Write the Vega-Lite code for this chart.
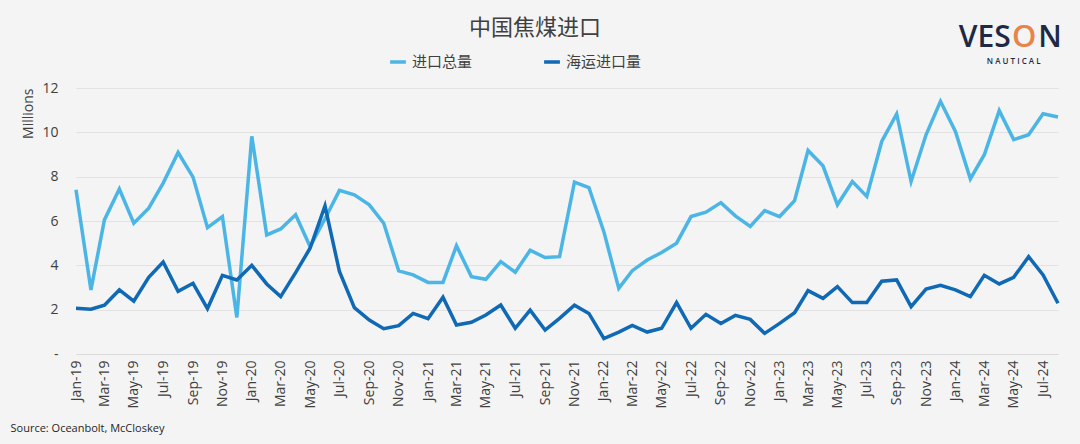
{
  "$schema": "https://vega.github.io/schema/vega-lite/v6.json",
  "autosize": {"type": "none"},
  "padding": {"left": 76, "top": 88, "right": 22, "bottom": 90},
  "width": 982,
  "height": 266,
  "background": "#f4f4f4",
  "config": {"view": {"stroke": null}, "font": "Open Sans"},
  "title": {
    "text": "中国焦煤进口",
    "font": "Noto Sans CJK SC",
    "fontSize": 22,
    "fontWeight": "normal",
    "color": "#404040",
    "anchor": "middle",
    "frame": "group",
    "dx": -32,
    "dy": 32,
    "offset": 14
  },
  "layer": [
    {
      "data": {
        "values": [
          {"month": "2019/01/01", "进口总量": 7.41, "海运进口量": 2.06},
          {"month": "2019/02/01", "进口总量": 2.89, "海运进口量": 2.02},
          {"month": "2019/03/01", "进口总量": 6.05, "海运进口量": 2.20},
          {"month": "2019/04/01", "进口总量": 7.44, "海运进口量": 2.89},
          {"month": "2019/05/01", "进口总量": 5.90, "海运进口量": 2.38},
          {"month": "2019/06/01", "进口总量": 6.58, "海运进口量": 3.46},
          {"month": "2019/07/01", "进口总量": 7.71, "海运进口量": 4.15},
          {"month": "2019/08/01", "进口总量": 9.09, "海运进口量": 2.83},
          {"month": "2019/09/01", "进口总量": 7.98, "海运进口量": 3.19},
          {"month": "2019/10/01", "进口总量": 5.70, "海运进口量": 2.05},
          {"month": "2019/11/01", "进口总量": 6.20, "海运进口量": 3.55},
          {"month": "2019/12/01", "进口总量": 1.65, "海运进口量": 3.34},
          {"month": "2020/01/01", "进口总量": 9.82, "海运进口量": 4.00},
          {"month": "2020/02/01", "进口总量": 5.37, "海运进口量": 3.16},
          {"month": "2020/03/01", "进口总量": 5.64, "海运进口量": 2.59},
          {"month": "2020/04/01", "进口总量": 6.28, "海运进口量": 3.67},
          {"month": "2020/05/01", "进口总量": 4.85, "海运进口量": 4.77},
          {"month": "2020/06/01", "进口总量": 6.10, "海运进口量": 6.68},
          {"month": "2020/07/01", "进口总量": 7.38, "海运进口量": 3.72},
          {"month": "2020/08/01", "进口总量": 7.18, "海运进口量": 2.09},
          {"month": "2020/09/01", "进口总量": 6.73, "海运进口量": 1.53},
          {"month": "2020/10/01", "进口总量": 5.90, "海运进口量": 1.14},
          {"month": "2020/11/01", "进口总量": 3.75, "海运进口量": 1.28},
          {"month": "2020/12/01", "进口总量": 3.57, "海运进口量": 1.83},
          {"month": "2021/01/01", "进口总量": 3.23, "海运进口量": 1.59},
          {"month": "2021/02/01", "进口总量": 3.23, "海运进口量": 2.56},
          {"month": "2021/03/01", "进口总量": 4.88, "海运进口量": 1.31},
          {"month": "2021/04/01", "进口总量": 3.49, "海运进口量": 1.43},
          {"month": "2021/05/01", "进口总量": 3.37, "海运进口量": 1.76},
          {"month": "2021/06/01", "进口总量": 4.17, "海运进口量": 2.21},
          {"month": "2021/07/01", "进口总量": 3.69, "海运进口量": 1.16},
          {"month": "2021/08/01", "进口总量": 4.68, "海运进口量": 1.98},
          {"month": "2021/09/01", "进口总量": 4.35, "海运进口量": 1.08},
          {"month": "2021/10/01", "进口总量": 4.39, "海运进口量": 1.61},
          {"month": "2021/11/01", "进口总量": 7.75, "海运进口量": 2.20},
          {"month": "2021/12/01", "进口总量": 7.51, "海运进口量": 1.83},
          {"month": "2022/01/01", "进口总量": 5.52, "海运进口量": 0.70},
          {"month": "2022/02/01", "进口总量": 2.96, "海运进口量": 0.99},
          {"month": "2022/03/01", "进口总量": 3.76, "海运进口量": 1.29},
          {"month": "2022/04/01", "进口总量": 4.24, "海运进口量": 0.99},
          {"month": "2022/05/01", "进口总量": 4.58, "海运进口量": 1.16},
          {"month": "2022/06/01", "进口总量": 5.00, "海运进口量": 2.32},
          {"month": "2022/07/01", "进口总量": 6.20, "海运进口量": 1.16},
          {"month": "2022/08/01", "进口总量": 6.40, "海运进口量": 1.79},
          {"month": "2022/09/01", "进口总量": 6.83, "海运进口量": 1.38},
          {"month": "2022/10/01", "进口总量": 6.23, "海运进口量": 1.74},
          {"month": "2022/11/01", "进口总量": 5.75, "海运进口量": 1.56},
          {"month": "2022/12/01", "进口总量": 6.47, "海运进口量": 0.93},
          {"month": "2023/01/01", "进口总量": 6.20, "海运进口量": 1.38},
          {"month": "2023/02/01", "进口总量": 6.92, "海运进口量": 1.86},
          {"month": "2023/03/01", "进口总量": 9.18, "海运进口量": 2.86},
          {"month": "2023/04/01", "进口总量": 8.49, "海运进口量": 2.51},
          {"month": "2023/05/01", "进口总量": 6.73, "海运进口量": 3.04},
          {"month": "2023/06/01", "进口总量": 7.78, "海运进口量": 2.32},
          {"month": "2023/07/01", "进口总量": 7.11, "海运进口量": 2.32},
          {"month": "2023/08/01", "进口总量": 9.59, "海运进口量": 3.28},
          {"month": "2023/09/01", "进口总量": 10.83, "海运进口量": 3.34},
          {"month": "2023/10/01", "进口总量": 7.78, "海运进口量": 2.14},
          {"month": "2023/11/01", "进口总量": 9.89, "海运进口量": 2.93},
          {"month": "2023/12/01", "进口总量": 11.40, "海运进口量": 3.10},
          {"month": "2024/01/01", "进口总量": 10.04, "海运进口量": 2.89},
          {"month": "2024/02/01", "进口总量": 7.90, "海运进口量": 2.59},
          {"month": "2024/03/01", "进口总量": 8.99, "海运进口量": 3.55},
          {"month": "2024/04/01", "进口总量": 10.98, "海运进口量": 3.16},
          {"month": "2024/05/01", "进口总量": 9.67, "海运进口量": 3.46},
          {"month": "2024/06/01", "进口总量": 9.89, "海运进口量": 4.39},
          {"month": "2024/07/01", "进口总量": 10.84, "海运进口量": 3.57},
          {"month": "2024/08/01", "进口总量": 10.69, "海运进口量": 2.29}
        ]
      },
      "transform": [
        {"fold": ["进口总量", "海运进口量"], "as": ["series", "value"]}
      ],
      "mark": {"type": "line", "strokeWidth": 3.5, "strokeJoin": "miter"},
      "encoding": {
        "x": {
          "field": "month",
          "type": "temporal",
          "scale": {"nice": false, "padding": 0},
          "axis": {
            "format": "%b-%y",
            "tickCount": {"interval": "month", "step": 2},
            "labelAngle": -90,
            "labelAlign": "right",
            "labelBaseline": "middle",
            "labelFontSize": 14,
            "labelColor": "#404040",
            "labelPadding": 6,
            "labelOverlap": false,
            "labelFlush": false,
            "ticks": false,
            "grid": false,
            "domainColor": "#d9d9d9",
            "title": "Source: Oceanbolt, McCloskey",
            "titleAnchor": "start",
            "titleAlign": "left",
            "titleBaseline": "middle",
            "titleX": -66,
            "titleY": 74,
            "titleFontSize": 11,
            "titleFontWeight": "normal",
            "titleColor": "#262626"
          }
        },
        "y": {
          "field": "value",
          "type": "quantitative",
          "scale": {"domain": [0, 12], "nice": false},
          "axis": {
            "values": [0, 2, 4, 6, 8, 10, 12],
            "labelExpr": "datum.value == 0 ? '-' : datum.label",
            "domain": false,
            "ticks": false,
            "gridColor": "#e2e2e2",
            "labelFontSize": 14,
            "labelColor": "#404040",
            "labelPadding": 18,
            "title": "Millions",
            "titleAnchor": "end",
            "titleFontSize": 14,
            "titleFontWeight": "normal",
            "titleColor": "#404040",
            "titlePadding": 6
          }
        },
        "color": {
          "field": "series",
          "type": "nominal",
          "scale": {"domain": ["进口总量", "海运进口量"], "range": ["#4bb5e6", "#0f69b4"]},
          "legend": {
            "orient": "none",
            "legendX": 312,
            "legendY": -36,
            "direction": "horizontal",
            "title": null,
            "symbolType": "stroke",
            "symbolStrokeWidth": 3.5,
            "symbolSize": 250,
            "labelFont": "Noto Sans CJK SC",
            "labelFontSize": 15,
            "labelColor": "#404040",
            "columnPadding": 64
          }
        }
      }
    },
    {
      "data": {"values": [{"t": "VES"}]},
      "mark": {"type": "text", "align": "right", "baseline": "alphabetic", "fontSize": 30, "fontWeight": 600, "font": "Open Sans", "color": "#1e2a45"},
      "encoding": {
        "x": {"datum": {"year": 2024, "month": 4, "date": 25}, "type": "temporal"},
        "y": {"datum": 13.85, "type": "quantitative"},
        "text": {"field": "t"}
      }
    },
    {
      "data": {"values": [{"t": "O"}]},
      "mark": {"type": "text", "align": "center", "baseline": "alphabetic", "fontSize": 31, "fontWeight": 600, "font": "Open Sans", "color": "#e8844a"},
      "encoding": {
        "x": {"datum": {"year": 2024, "month": 5, "date": 23}, "type": "temporal"},
        "y": {"datum": 13.85, "type": "quantitative"},
        "text": {"field": "t"}
      }
    },
    {
      "data": {"values": [{"t": "N"}]},
      "mark": {"type": "text", "align": "left", "baseline": "alphabetic", "fontSize": 30, "fontWeight": 600, "font": "Open Sans", "color": "#1e2a45"},
      "encoding": {
        "x": {"datum": {"year": 2024, "month": 6, "date": 21}, "type": "temporal"},
        "y": {"datum": 13.85, "type": "quantitative"},
        "text": {"field": "t"}
      }
    },
    {
      "data": {"values": [{"t": "N  A  U  T  I  C  A  L"}]},
      "mark": {"type": "text", "align": "center", "baseline": "alphabetic", "fontSize": 8, "fontWeight": 600, "font": "Open Sans", "color": "#1e2a45"},
      "encoding": {
        "x": {"datum": {"year": 2024, "month": 5, "date": 1}, "type": "temporal"},
        "y": {"datum": 13.1, "type": "quantitative"},
        "text": {"field": "t"}
      }
    }
  ]
}
